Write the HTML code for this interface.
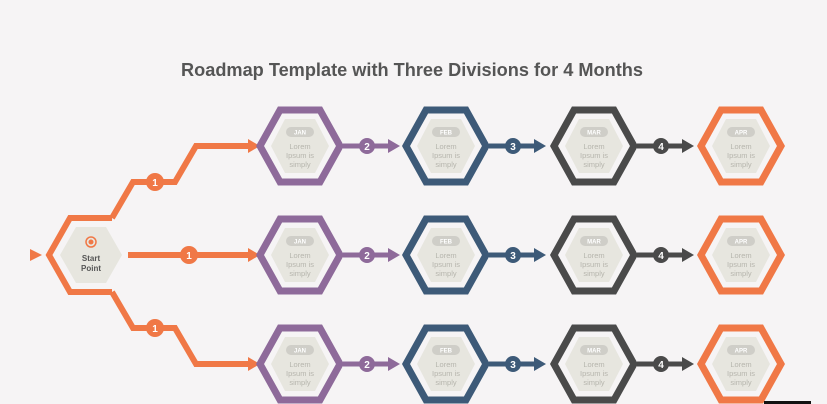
<!DOCTYPE html>
<html><head><meta charset="utf-8"><style>
html,body{margin:0;padding:0;background:#f6f4f5;}
svg{display:block;font-family:"Liberation Sans",sans-serif;}
</style></head><body>
<svg width="827" height="404" viewBox="0 0 827 404">
<defs>
<g id="inner">
<polygon points="-29,0 -15,-27 15,-27 29,0 15,27 -15,27" fill="#e7e6df"/>
</g>
</defs>
<rect width="827" height="404" fill="#f6f4f5"/>
<text x="412" y="76" text-anchor="middle" font-size="18" font-weight="bold" fill="#555" textLength="462" lengthAdjust="spacingAndGlyphs">Roadmap Template with Three Divisions for 4 Months</text>

<!-- start -->
<g stroke="#f07846" stroke-width="6" fill="none" stroke-linejoin="miter">
<polyline points="112,218 70,218 49,255 70,292 112,292"/>
<polyline points="112,218 133,182 175,182 196,146 250,146"/>
<polyline points="112,292 133,328 175,328 196,364 250,364"/>
<line x1="128" y1="255" x2="250" y2="255"/>
</g>
<g fill="#f07846">
<polygon points="30,249 42,255 30,261"/>
<polygon points="248,139 260,146 248,153"/>
<polygon points="248,248 260,255 248,262"/>
<polygon points="248,357 260,364 248,371"/>
<circle cx="155" cy="182" r="9"/><circle cx="189" cy="255" r="9"/><circle cx="155" cy="328" r="9"/>
</g>
<g fill="#fff" font-size="10" font-weight="bold" text-anchor="middle">
<text x="155" y="186">1</text><text x="189" y="259">1</text><text x="155" y="332">1</text>
</g>
<polygon points="60,255 76,227 106,227 122,255 106,283 76,283" fill="#e7e6df"/>
<circle cx="91" cy="242" r="5" fill="none" stroke="#f07846" stroke-width="1.5"/>
<circle cx="91" cy="242" r="2.5" fill="#f07846"/>
<text x="91" y="261" text-anchor="middle" font-size="8" font-weight="bold" fill="#555">Start</text>
<text x="91" y="271" text-anchor="middle" font-size="8" font-weight="bold" fill="#555">Point</text>

<!-- connectors -->
<g id="conns">
<g stroke-width="5">
<line x1="343" y1="146" x2="392" y2="146" stroke="#8e6a9a"/>
<line x1="489" y1="146" x2="538" y2="146" stroke="#3d5a78"/>
<line x1="637" y1="146" x2="686" y2="146" stroke="#4a4a4a"/>
</g>
<polygon points="388,139 400,146 388,153" fill="#8e6a9a"/>
<polygon points="534,139 546,146 534,153" fill="#3d5a78"/>
<polygon points="682,139 694,146 682,153" fill="#4a4a4a"/>
<circle cx="367" cy="146" r="8" fill="#8e6a9a"/>
<circle cx="513" cy="146" r="8" fill="#3d5a78"/>
<circle cx="661" cy="146" r="8" fill="#4a4a4a"/>
<g fill="#fff" font-size="10" font-weight="bold" text-anchor="middle">
<text x="367" y="150">2</text><text x="513" y="150">3</text><text x="661" y="150">4</text>
</g>
</g>
<use href="#conns" y="109"/>
<use href="#conns" y="218"/>

<!-- hex rows -->
<g id="row">
<g fill="none" stroke-width="7" stroke-linejoin="miter">
<polygon points="260,146 280,110 320,110 340,146 320,182 280,182" stroke="#8e6a9a"/>
<polygon points="406,146 426,110 466,110 486,146 466,182 426,182" stroke="#3d5a78"/>
<polygon points="554,146 574,110 614,110 634,146 614,182 574,182" stroke="#4a4a4a"/>
<polygon points="701,146 721,110 761,110 781,146 761,182 721,182" stroke="#f07846"/>
</g>
<use href="#inner" x="300" y="146"/><use href="#inner" x="446" y="146"/>
<use href="#inner" x="594" y="146"/><use href="#inner" x="741" y="146"/>
<g fill="#cfcec8">
<rect x="286" y="127" width="28" height="10" rx="5"/><rect x="432" y="127" width="28" height="10" rx="5"/>
<rect x="580" y="127" width="28" height="10" rx="5"/><rect x="727" y="127" width="28" height="10" rx="5"/>
</g>
<g fill="#fff" font-size="6" font-weight="bold" text-anchor="middle">
<text x="300" y="134.5">JAN</text><text x="446" y="134.5">FEB</text><text x="594" y="134.5">MAR</text><text x="741" y="134.5">APR</text>
</g>
<g fill="#b6b5ad" font-size="7.5" text-anchor="middle">
<text x="300" y="149">Lorem</text><text x="300" y="158">Ipsum is</text><text x="300" y="167">simply</text>
<text x="446" y="149">Lorem</text><text x="446" y="158">Ipsum is</text><text x="446" y="167">simply</text>
<text x="594" y="149">Lorem</text><text x="594" y="158">Ipsum is</text><text x="594" y="167">simply</text>
<text x="741" y="149">Lorem</text><text x="741" y="158">Ipsum is</text><text x="741" y="167">simply</text>
</g>
</g>
<use href="#row" y="109"/>
<use href="#row" y="218"/>
<rect x="764" y="401" width="47" height="3" fill="#111"/>
</svg>
</body></html>
